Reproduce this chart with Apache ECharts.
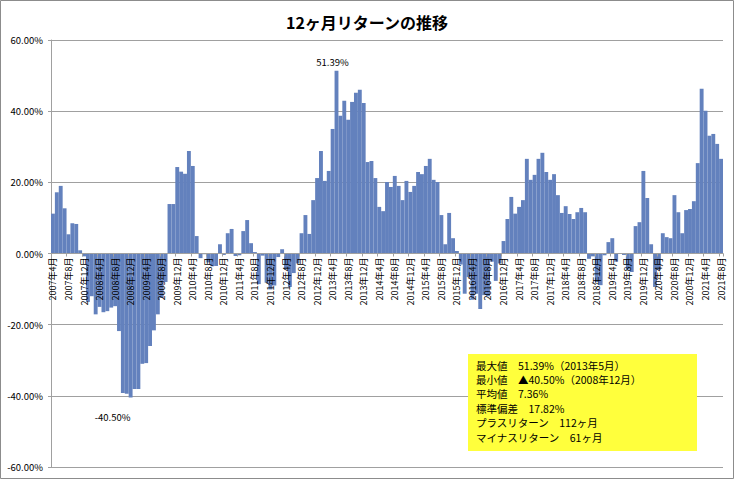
<!DOCTYPE html>
<html>
<head>
<meta charset="utf-8">
<script src="https://cdn.jsdelivr.net/npm/echarts@6/dist/echarts.min.js"></script>
<style>
  html, body { margin: 0; padding: 0; background: #fff; }
  #chart { width: 734px; height: 479px; }
</style>
</head>
<body>
<div id="chart"></div>
<script>
// ---- Data (12-month returns, %) ----
const startYear = 2007;
const startMonth = 4;
const r2007 = [11.2, 17.2, 19.0, 12.7, 5.4, 8.5, 8.3, 0.9, -0.8];
const r2008 = [-13.6, -12.0, -17.1, -15.0, -16.5, -16.2, -15.2, -14.8, -21.8, -39.2, -39.4, -40.5];
const r2009 = [-38.1, -38.1, -31.0, -30.8, -26.0, -21.6, -17.1, -12.5, -8.0, 13.9, 13.9, 24.3];
const r2010 = [23.0, 22.4, 28.8, 24.6, 4.9, -1.3, -0.2, -2.5, -3.6, -3.5, 2.6, -0.4];
const r2011 = [5.7, 6.9, -0.7, -0.5, 6.3, 9.4, 2.9, 0.4, -8.6, -0.6, -8.2, -10.1];
const r2012 = [-9.0, -1.0, 1.2, -4.5, -9.4, -5.5, -2.8, 5.7, 10.8, 5.5, 15.0, 21.2];
const r2013 = [28.8, 20.4, 23.2, 35.0, 51.39, 38.7, 42.9, 37.6, 42.6, 45.2, 46.0, 42.3];
const r2014 = [25.7, 26.0, 21.2, 13.1, 11.9, 20.1, 18.7, 21.8, 19.0, 15.0, 20.4, 17.3];
const r2015 = [19.0, 22.9, 22.3, 24.6, 26.6, 20.7, 20.1, 10.8, 2.6, 11.4, 4.3, 0.7];
const r2016 = [-3.1, -11.3, -6.6, -13.0, -11.3, -15.6, -11.7, -12.0, -2.3, -7.7, -2.8, 3.5];
const r2017 = [9.7, 15.9, 11.2, 13.1, 15.0, 26.6, 20.7, 22.1, 26.6, 28.3, 22.9, 20.7];
const r2018 = [22.3, 16.4, 11.4, 13.3, 11.1, 9.7, 11.6, 12.8, 11.6, -1.5, -0.8, -8.0];
const r2019 = [-8.9, -0.5, 3.2, 4.3, -2.3, 0.1, -0.4, -4.5, -5.2, 7.7, 8.8, 23.2];
const r2020 = [15.6, 2.6, -9.4, -4.6, 5.7, 4.6, 4.3, 16.4, 11.6, 5.7, 12.2, 12.5];
const r2021 = [14.7, 25.4, 46.3, 40.1, 33.1, 33.6, 30.8, 26.6];

const yTicks = [-60, -40, -20, 0, 20, 40, 60];
const statLines = [
  '最大値　51.39%（2013年5月）',
  '最小値　▲40.50%（2008年12月）',
  '平均値　7.36%',
  '標準偏差　17.82%',
  'プラスリターン　112ヶ月',
  'マイナスリターン　61ヶ月'
];
const titleText = '12ヶ月リターンの推移';

// ---- Build ----
const values = [].concat(r2007, r2008, r2009, r2010, r2011, r2012, r2013,
  r2014, r2015, r2016, r2017, r2018, r2019, r2020, r2021);
const categories = values.map((_, i) => {
  const m0 = startMonth - 1 + i;
  return (startYear + Math.floor(m0 / 12)) + '年' + (m0 % 12 + 1) + '月';
});
let maxIdx = 0, minIdx = 0;
values.forEach((v, i) => { if (v > values[maxIdx]) maxIdx = i; if (v < values[minIdx]) minIdx = i; });

const FONT = '"Noto Sans CJK JP", "Noto Sans", sans-serif';
const GRID = { left: 51, right: 11, top: 40, bottom: 12 };
const plotH = 479 - GRID.top - GRID.bottom;
const yMin = yTicks[0], yMax = yTicks[yTicks.length - 1];
// move the category axis up to the zero line
const zeroOffset = -plotH * (0 - yMin) / (yMax - yMin);

const barData = values.map((v, i) => {
  if (i === maxIdx) return { value: v, label: { show: true, position: 'top', distance: 4, offset: [-4, 0],
    formatter: p => p.value.toFixed(2) + '%', fontSize: 9.5, color: '#000', fontFamily: FONT } };
  if (i === minIdx) return { value: v, label: { show: true, position: ['50%', '100%'],
    align: 'center', verticalAlign: 'top', offset: [-18, 15],
    formatter: p => p.value.toFixed(2) + '%', fontSize: 9.5, color: '#000', fontFamily: FONT } };
  return v;
});

const chart = echarts.init(document.getElementById('chart'), null, { renderer: 'svg' });
const graphics = [
  { type: 'rect', shape: { x: 0.5, y: 0.5, width: 733, height: 478 },
    style: { fill: 'none', stroke: '#8c8c8c', lineWidth: 1 }, z: 100 },
  { type: 'rect', shape: { x: 468, y: 354, width: 229, height: 97 },
    style: { fill: '#ffff3c' }, z: 50 }
];
statLines.forEach((t, k) => {
  graphics.push({ type: 'text', x: 476, y: 365 + k * 14.4, z: 51,
    style: { text: t, fill: '#000', font: '10.5px ' + FONT, textVerticalAlign: 'middle', textAlign: 'left' } });
});

chart.setOption({
  animation: false,
  backgroundColor: '#fff',
  title: { text: titleText, left: 'center', top: 9,
    textStyle: { fontSize: 16, fontWeight: 'bold', color: '#000', fontFamily: FONT } },
  grid: Object.assign({ containLabel: false }, GRID),
  xAxis: {
    type: 'category', data: categories, boundaryGap: true, z: 10,
    position: 'bottom', offset: zeroOffset,
    axisLine: { onZero: false, lineStyle: { color: '#a0a0a0', width: 1 } },
    axisTick: { show: true, interval: 3, length: 3, lineStyle: { color: '#a0a0a0' } },
    axisLabel: { interval: 3, rotate: 90, fontSize: 9, margin: 4, color: '#000', fontFamily: FONT },
    splitLine: { show: false }
  },
  yAxis: {
    type: 'value', min: yMin, max: yMax, interval: 20,
    axisLine: { show: true, lineStyle: { color: '#a0a0a0' } },
    axisTick: { show: true, length: 3, lineStyle: { color: '#a0a0a0' } },
    axisLabel: { formatter: v => v.toFixed(2) + '%', fontSize: 9.5, color: '#000', margin: 8, fontFamily: FONT },
    splitLine: { show: true, lineStyle: { color: '#a0a0a0', width: 1 } }
  },
  series: [{
    type: 'bar', data: barData, barCategoryGap: '0%',
    itemStyle: { color: '#6381bd' }
  }],
  graphic: graphics
});
</script>
</body>
</html>
